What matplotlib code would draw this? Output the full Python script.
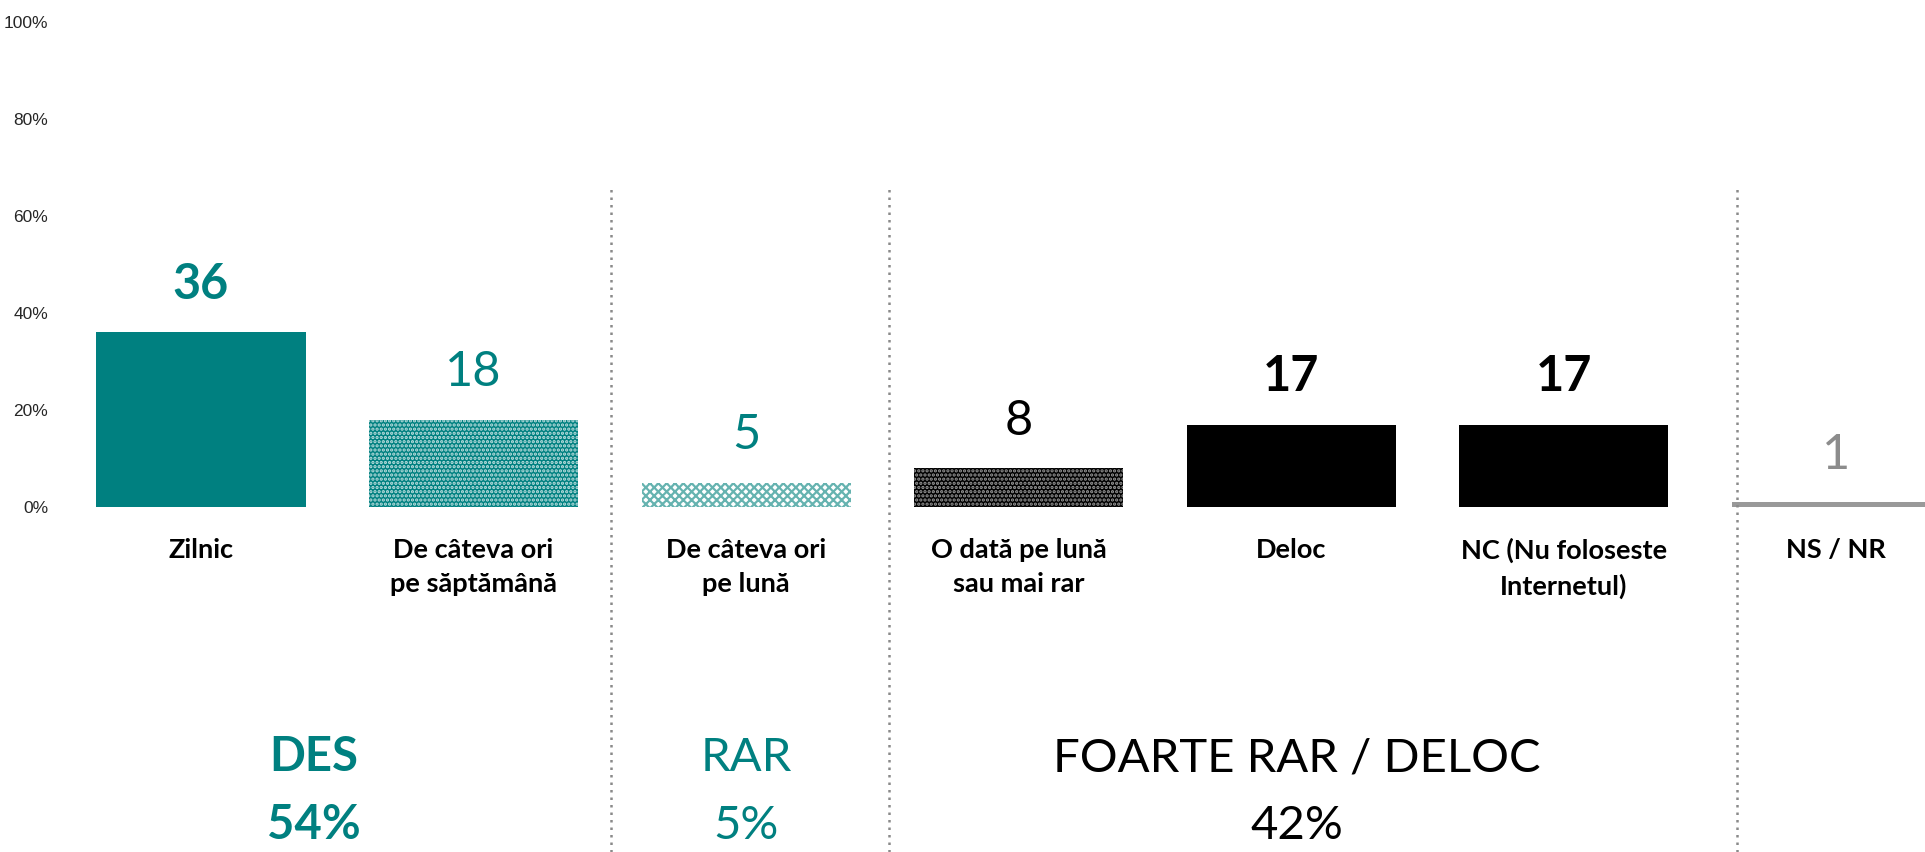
import matplotlib
matplotlib.use("Agg")
import matplotlib.pyplot as plt
from matplotlib.ticker import FuncFormatter

# Frecventa folosirii Internetului (%)
categories = ["Zilnic", "De câteva ori\npe săptămână", "De câteva ori\npe lună",
              "O dată pe lună\nsau mai rar", "Deloc", "NC (Nu foloseste\nInternetul)", "NS / NR"]
values = [36, 18, 5, 8, 17, 17, 1]
bold_values = [True, False, False, False, True, True, False]

groups = ["DES", "RAR", "FOARTE RAR / DELOC"]
group_totals = ["54%", "5%", "42%"]
group_bold = [True, False, False]

TEAL = "#008080"
GRAY = "#999999"

bar_faces = [TEAL, TEAL, "white", "black", "black", "black", GRAY]
bar_hatch_colors = [None, "#bfe0e0", "#66b3b0", "#9a9a9a", None, None, None]
bar_hatches = [None, "....", "xxxx", "....", None, None, None]
label_colors = [TEAL, TEAL, TEAL, "black", "black", "black", "#8c8c8c"]
group_colors = [TEAL, TEAL, "black"]
group_x = [0.415, 2.0, 4.02]
separators_x = [1.503, 2.524, 5.634]

plt.rcParams["hatch.linewidth"] = 1.6

fig = plt.figure(figsize=(19.25, 8.52), dpi=100)
ax = fig.add_axes([64.7 / 1925, (852 - 507) / 852, 1 - 64.7 / 1925, 485 / 852])

for i, v in enumerate(values):
    if bar_hatches[i]:
        ax.bar(i, v, width=0.767, color=bar_faces[i], edgecolor=bar_hatch_colors[i],
               hatch=bar_hatches[i], linewidth=0)
    else:
        ax.bar(i, v, width=0.767, color=bar_faces[i], linewidth=0)
    ax.annotate(str(v), (i, v), xytext=(0, 24), textcoords="offset points",
                ha="center", va="baseline", fontsize=35, family="Lato",
                fontweight="bold" if bold_values[i] else "normal", color=label_colors[i])

ax.set_xlim(-0.5, 6.325)
ax.set_ylim(0, 100)
ax.set_yticks([0, 20, 40, 60, 80, 100])
ax.yaxis.set_major_formatter(FuncFormatter(lambda v, p: f"{v:.0f}%"))
ax.tick_params(axis="y", length=0, pad=12, labelsize=12.5, labelcolor="#262626")
for lbl in ax.get_yticklabels():
    lbl.set_family("Liberation Sans")
ax.set_xticks([])
for s in ax.spines.values():
    s.set_visible(False)

tr = ax.get_xaxis_transform()
for i, c in enumerate(categories):
    ax.text(i, -0.064, c, transform=tr, ha="center", va="top", fontsize=19.5,
            family="Lato", fontweight="bold", linespacing=1.5, color="black")

for sx in separators_x:
    ax.axvline(sx, ymin=(507 - 852) / 485, ymax=(507 - 188) / 485, color="#8a8a8a",
               linewidth=1.8, linestyle=(0, (1, 2)), clip_on=False)

for g, t, gx, col, b in zip(groups, group_totals, group_x, group_colors, group_bold):
    w = "bold" if b else "normal"
    ax.text(gx, (507 - 771) / 485, g, transform=tr, ha="center", va="baseline",
            fontsize=34, family="Lato", fontweight=w, color=col)
    ax.text(gx, (507 - 839) / 485, t, transform=tr, ha="center", va="baseline",
            fontsize=34, family="Lato", fontweight=w, color=col)

fig.savefig("out.png", dpi=100)
